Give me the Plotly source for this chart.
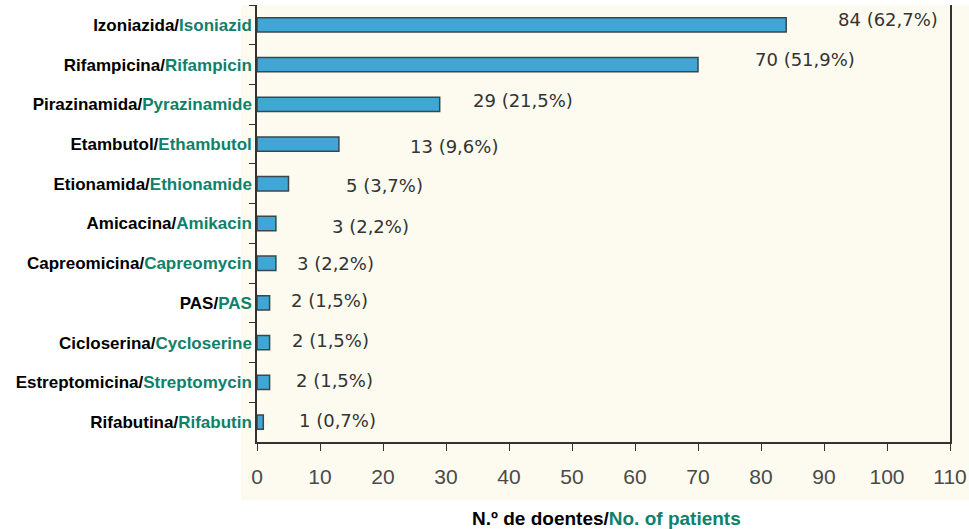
import plotly.graph_objects as go

# ---- data ----
drugs_pt = ["Izoniazida", "Rifampicina", "Pirazinamida", "Etambutol", "Etionamida",
            "Amicacina", "Capreomicina", "PAS", "Cicloserina", "Estreptomicina", "Rifabutina"]
drugs_en = ["Isoniazid", "Rifampicin", "Pyrazinamide", "Ethambutol", "Ethionamide",
            "Amikacin", "Capreomycin", "PAS", "Cycloserine", "Streptomycin", "Rifabutin"]
patients = [84, 70, 29, 13, 5, 3, 3, 2, 2, 2, 1]
percent_labels = ["62,7%", "51,9%", "21,5%", "9,6%", "3,7%", "2,2%", "2,2%", "1,5%", "1,5%", "1,5%", "0,7%"]
x_ticks = list(range(0, 111, 10))

# ---- styling ----
GREEN = "#0f806a"
BAR = "#3fa6d6"
CREAM = "#fdfbef"
label_gap_px = [50, 55, 31, 69, 55, 54, 19, 19, 20, 24, 34]
label_yshift_px = [5, 5, 4, -2, -2, -3, 0, 2, 2, 2, 2]

cats = [f"{p}/<span style='color:{GREEN}'>{e}</span>" for p, e in zip(drugs_pt, drugs_en)]

fig = go.Figure()
fig.add_trace(go.Bar(
    x=patients, y=cats, orientation="h", width=0.36,
    marker=dict(color=BAR, line=dict(color="#3b474c", width=1.5)),
    hoverinfo="skip",
))

for c, v, pct, g, ys in zip(cats, patients, percent_labels, label_gap_px, label_yshift_px):
    fig.add_annotation(x=v, y=c, text=f"{v} ({pct})", showarrow=False,
                       xanchor="left", yanchor="middle", xshift=g, yshift=ys,
                       font=dict(family="DejaVu Sans", size=18, color="#333333"))

fig.add_shape(type="rect", xref="paper", yref="paper",
              x0=-0.0231, x1=1.03, y0=-0.133, y1=1.0,
              fillcolor=CREAM, line=dict(width=0), layer="below")

fig.add_annotation(xref="paper", yref="paper", x=0.505, y=-0.176, yanchor="middle",
                   showarrow=False,
                   text=f"<b>N.º de doentes/<span style='color:{GREEN}'>No. of patients</span></b>",
                   font=dict(family="Liberation Sans, Arial", size=19, color="#000000"))

fig.update_layout(
    width=969, height=529,
    margin=dict(l=257, r=19, t=5, b=87),
    paper_bgcolor="white", plot_bgcolor="rgba(0,0,0,0)",
    showlegend=False,
    xaxis=dict(range=[0, 110], tickvals=x_ticks, ticks="outside", ticklen=7,
               tickcolor="#333", showgrid=False, zeroline=False, automargin=False,
               showline=True, linecolor="#333", linewidth=1.5, ticklabelstandoff=8,
               tickfont=dict(family="Liberation Sans, Arial", size=21, color="#4a4a4a")),
    yaxis=dict(autorange="reversed", ticks="outside", tickson="boundaries", ticklen=6,
               tickcolor="#333", showgrid=False, zeroline=False, automargin=False,
               showline=True, linecolor="#333", linewidth=1.5, mirror=True,
               tickfont=dict(family="Liberation Sans, Arial", size=17, color="#000000",
                             weight="bold")),
)

fig.write_html("out.html", config={"displayModeBar": False},
               post_script="document.body.style.margin='0';document.body.style.overflow='hidden';")
